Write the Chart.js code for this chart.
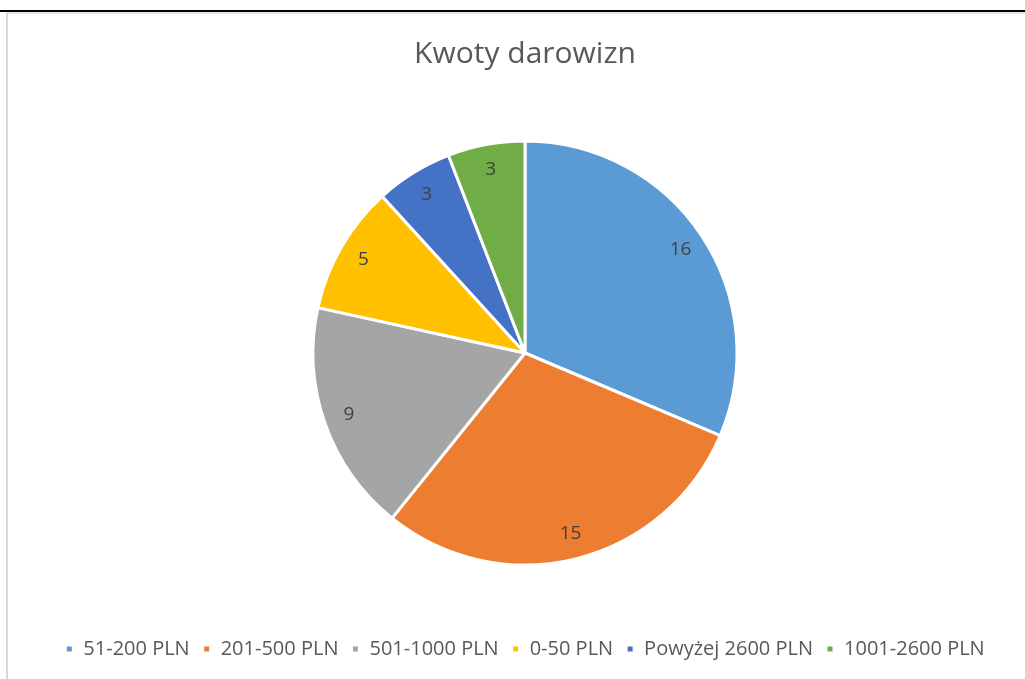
<!DOCTYPE html>
<html>
<head>
<meta charset="utf-8">
<script src="https://cdn.jsdelivr.net/npm/chart.js@4.4.0/dist/chart.umd.min.js"></script>
<style>
  html, body { margin: 0; padding: 0; background: #fff; overflow: hidden; }
  #topline { position: absolute; left: 0; top: 10px; width: 1025px; height: 2px; background: #000; }
  #frame { position: absolute; left: 6px; top: 12px; width: 1019px; height: 667px;
           border-left: 2px solid #d9d9d9; border-top: 2px solid #e6e6e6; box-sizing: border-box; }
  #box { position: absolute; left: 8px; top: 14px; width: 1017px; height: 665px; }
</style>
</head>
<body>
<div id="topline"></div>
<div id="frame"></div>
<div id="box"><canvas id="pieChart"></canvas></div>
<script>
let labels = ["51-200 PLN", "201-500 PLN", "501-1000 PLN", "0-50 PLN", "Powyżej 2600 PLN", "1001-2600 PLN"];
let values = [16, 15, 9, 5, 3, 3];
let colors = ["#5B9BD5", "#ED7D31", "#A5A5A5", "#FFC000", "#4472C4", "#70AD47"];

let font = "'Open Sans', 'Noto Sans', sans-serif";

// numbers inside the slices
let sliceLabels = {
  id: "sliceLabels",
  afterDatasetsDraw(chart) {
    let ctx = chart.ctx;
    let meta = chart.getDatasetMeta(0);
    ctx.save();
    ctx.font = "19px " + font;
    ctx.fillStyle = "#404040";
    ctx.textAlign = "center";
    ctx.textBaseline = "middle";
    meta.data.forEach((arc, i) => {
      let p = arc.getProps(["x", "y", "startAngle", "endAngle", "outerRadius"], true);
      let mid = (p.startAngle + p.endAngle) / 2;
      let r = p.outerRadius * 0.88;
      ctx.fillText(values[i], p.x + Math.cos(mid) * r, p.y + Math.sin(mid) * r);
    });
    ctx.restore();
  }
};

new Chart(document.getElementById("pieChart"), {
  type: "pie",
  data: {
    labels: labels,
    datasets: [{
      data: values,
      backgroundColor: colors,
      borderColor: "#ffffff",
      borderWidth: 3
    }]
  },
  options: {
    responsive: true,
    maintainAspectRatio: false,
    animation: false,
    radius: 212,
    layout: { padding: { left: 17, top: 0, bottom: 10 } },
    plugins: {
      title: {
        display: true,
        text: "Kwoty darowizn",
        color: "#595959",
        font: { family: font, size: 30, weight: "normal" },
        padding: { top: 22, bottom: 8 }
      },
      legend: {
        position: "bottom",
        labels: {
          color: "#595959",
          font: { family: font, size: 20 },
          boxWidth: 8,
          boxHeight: 8,
          padding: 13
        }
      },
      tooltip: { enabled: false }
    }
  },
  plugins: [sliceLabels]
});
</script>
</body>
</html>
